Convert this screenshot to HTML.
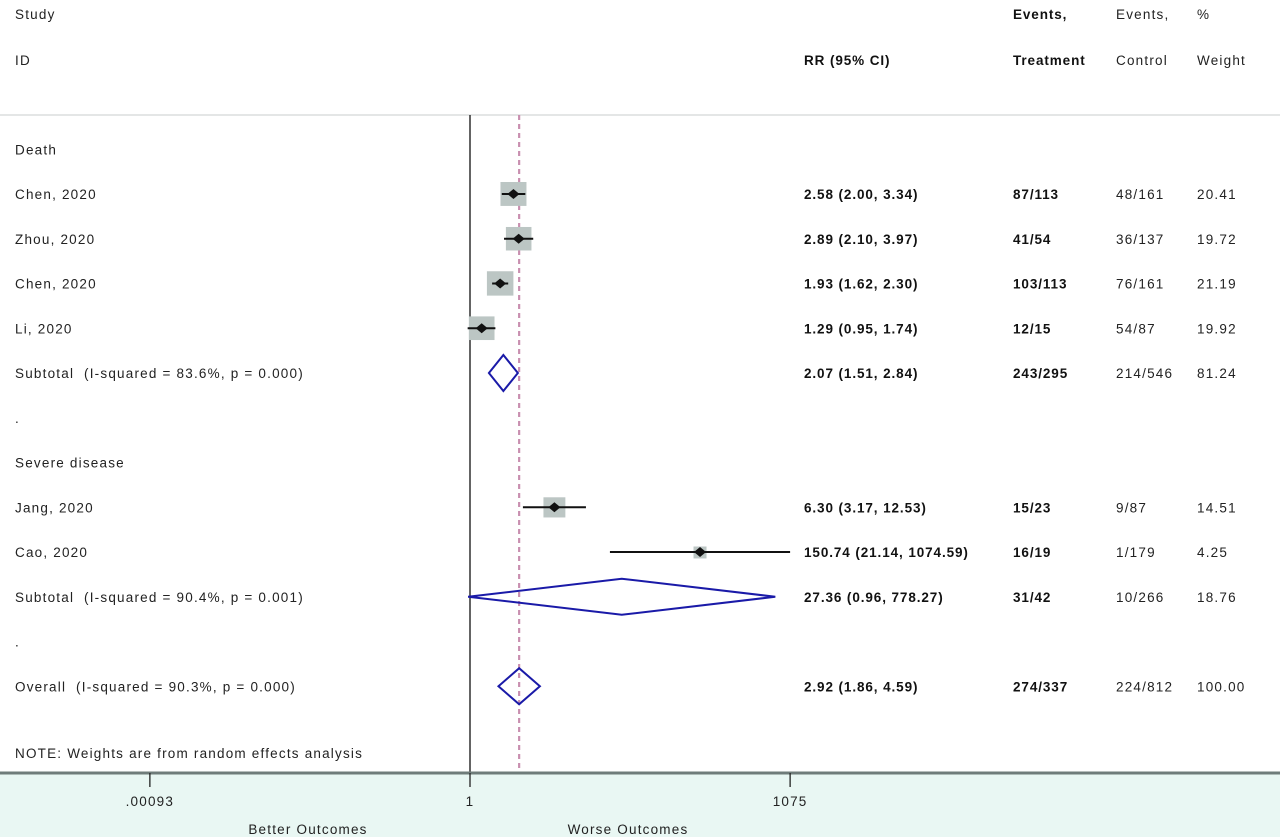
<!DOCTYPE html>
<html><head><meta charset="utf-8"><style>
html,body{margin:0;padding:0;background:#fff;}
svg{display:block;font-family:"Liberation Sans",sans-serif;}
text{font-size:13.5px;fill:#222;letter-spacing:1.2px;}
.b{font-weight:bold;fill:#111;letter-spacing:0.9px;}
</style></head><body>
<svg id="chart" width="1280" height="837" viewBox="0 0 1280 837">
<rect x="0" y="773" width="1280" height="64" fill="#e9f7f3"/>
<line x1="0" y1="115" x2="1280" y2="115" stroke="#c8cccc" stroke-width="1"/>
<text x="15" y="19">Study</text>
<text x="15" y="65">ID</text>
<text x="804" y="65" class="b">RR (95% CI)</text>
<text x="1013" y="19" class="b">Events,</text>
<text x="1013" y="65" class="b">Treatment</text>
<text x="1116" y="19">Events,</text>
<text x="1116" y="65">Control</text>
<text x="1197" y="19">%</text>
<text x="1197" y="65">Weight</text>
<g id="marks"></g>
<text x="15" y="758">NOTE: Weights are from random effects analysis</text>
<text x="308" y="834" text-anchor="middle">Better Outcomes</text>
<text x="628" y="834" text-anchor="middle">Worse Outcomes</text>
</svg>
<script>
const labels=["Death","Chen, 2020","Zhou, 2020","Chen, 2020","Li, 2020","Subtotal  (I-squared = 83.6%, p = 0.000)",".","Severe disease","Jang, 2020","Cao, 2020","Subtotal  (I-squared = 90.4%, p = 0.001)",".","Overall  (I-squared = 90.3%, p = 0.000)"];
const kinds=["head","study","study","study","study","sub","dot","head","study","study","sub","dot","sub"];
const rr=[null,2.58,2.89,1.93,1.29,2.07,null,null,6.30,150.74,27.36,null,2.92];
const lo=[null,2.00,2.10,1.62,0.95,1.51,null,null,3.17,21.14,0.96,null,1.86];
const hi=[null,3.34,3.97,2.30,1.74,2.84,null,null,12.53,1074.59,778.27,null,4.59];
const ciText=["","2.58 (2.00, 3.34)","2.89 (2.10, 3.97)","1.93 (1.62, 2.30)","1.29 (0.95, 1.74)","2.07 (1.51, 2.84)","","","6.30 (3.17, 12.53)","150.74 (21.14, 1074.59)","27.36 (0.96, 778.27)","","2.92 (1.86, 4.59)"];
const treat=["","87/113","41/54","103/113","12/15","243/295","","","15/23","16/19","31/42","","274/337"];
const ctrl=["","48/161","36/137","76/161","54/87","214/546","","","9/87","1/179","10/266","","224/812"];
const weight=[null,20.41,19.72,21.19,19.92,81.24,null,null,14.51,4.25,18.76,null,100.00];
const overall=2.92;
const ticks=[0.00093,1,1075];
const tickLabels=[".00093","1","1075"];

const NS="http://www.w3.org/2000/svg";
const g=document.getElementById('marks');
const X=v=>470+Math.log10(v)*105.6;
const Y=i=>194+(i-1)*44.75;
function mk(tag,attrs,parent){const e=document.createElementNS(NS,tag);for(const k in attrs)e.setAttribute(k,attrs[k]);(parent||g).appendChild(e);return e;}

let e=mk('line',{x1:470,y1:115,x2:470,y2:773,stroke:'#111','stroke-width':1.3});


e=mk('line',{x1:X(overall),y1:115,x2:X(overall),y2:773,stroke:'#c98fb0','stroke-width':2.2,'stroke-dasharray':'5,4'});



labels.forEach((l,i)=>{
  const y=Y(i);
  let t=mk('text',{x:15,y:y+5});t.textContent=l;
  t.setAttribute('xml:space','preserve');
  t.style.whiteSpace='pre';
  
  
  if(ciText[i]){
    t=mk('text',{x:804,y:y+5,class:'b'});t.textContent=ciText[i];
    
    
    t=mk('text',{x:1013,y:y+5,class:'b'});t.textContent=treat[i];
    
    
    t=mk('text',{x:1116,y:y+5});t.textContent=ctrl[i];
    
    
    t=mk('text',{x:1197,y:y+5});t.textContent=weight[i].toFixed(2);
    
    
  }
  if(kinds[i]==='study'){
    const s=Math.max(13,26*Math.sqrt(weight[i]/20.41));
    let b=mk('rect',{x:X(rr[i])-s/2,y:y-s/2+1,width:s,height:s*0.92,fill:'#bcc6c4'});
    
    
    let c=mk('line',{x1:X(lo[i]),y1:y,x2:X(hi[i]),y2:y,stroke:'#111','stroke-width':2});
    
    
    const px=X(rr[i]);
    let d=mk('polygon',{points:`${px-6},${y} ${px},${y-5} ${px+6},${y} ${px},${y+5}`,fill:'#111'});
    
    
  } else if(kinds[i]==='sub'){
    const a=X(lo[i]),m=X(rr[i]),b2=X(hi[i]);
    let d=mk('polygon',{points:`${a},${y} ${m},${y-18} ${b2},${y} ${m},${y+18}`,fill:'none',stroke:'#1a1aa8','stroke-width':2});
    
    
  }
});

e=mk('line',{x1:0,y1:773,x2:1280,y2:773,stroke:'#6f7c7a','stroke-width':3});


ticks.forEach((v,i)=>{
  let l=mk('line',{x1:X(v),y1:773,x2:X(v),y2:787,stroke:'#222','stroke-width':1.3});
  
  
  let t=mk('text',{x:X(v),y:806,'text-anchor':'middle'});t.textContent=tickLabels[i];
  
  
});
</script>
</body></html>
